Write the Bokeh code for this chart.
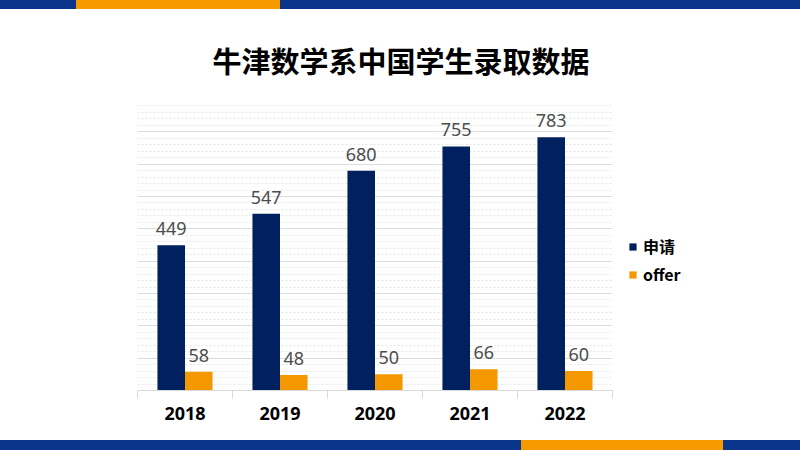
from bokeh.plotting import figure
from bokeh.models import (ColumnDataSource, Range1d, LabelSet, Legend, LegendItem,
                          SingleIntervalTicker, FixedTicker, Div, BoxAnnotation)
from bokeh.transform import dodge
from bokeh.layouts import column
from bokeh.embed import file_html
from bokeh.resources import INLINE
from bokeh.core.properties import value

# ---------------- data ----------------
years = ["2018", "2019", "2020", "2021", "2022"]
applications = [449, 547, 680, 755, 783]
offers = [58, 48, 50, 66, 60]
series_names = ["申请", "offer"]
title_text = "牛津数学系中国学生录取数据"

# ---------------- style ----------------
NAVY = "#002060"
ORANGE = "#F39800"
STRIPE_BLUE = "#0A358A"
STRIPE_ORANGE = "#F59A00"
LABEL_GRAY = "#4D4D4D"
top_stripe_edges = [0, 76, 280, 800]
bottom_stripe_edges = [0, 521, 723, 800]
stripe_colors = [STRIPE_BLUE, STRIPE_ORANGE, STRIPE_BLUE]

W = 800
FRAME_LEFT = 137
CAT_PX = 95  # pixel width of one year slot


def stripe(edges, colors, h):
    stops = []
    for i, c in enumerate(colors):
        stops.append(f"{c} {edges[i]}px")
        stops.append(f"{c} {edges[i + 1]}px")
    grad = "linear-gradient(to right, " + ", ".join(stops) + ")"
    return Div(text="", width=W, height=h, margin=0,
               styles={"background": grad})


n = len(years)
xs = [i + 0.5 for i in range(n)]
src = ColumnDataSource(dict(
    x=xs,
    year=years,
    apply=applications,
    offer=offers,
    apply_s=[str(v) for v in applications],
    offer_s=[str(v) for v in offers],
))

p = figure(x_range=Range1d(0, (W - FRAME_LEFT) / CAT_PX), y_range=Range1d(0, 900),
           width=W, height=431, output_backend="svg", toolbar_location=None,
           min_border_left=FRAME_LEFT, min_border_right=0,
           min_border_top=90, min_border_bottom=50, margin=0)

bw = 0.29
r1 = p.vbar(x=dodge("x", -bw / 2), top="apply", width=bw,
            source=src, fill_color=NAVY, line_color=None)
r2 = p.vbar(x=dodge("x", bw / 2), top="offer", width=bw,
            source=src, fill_color=ORANGE, line_color=None)

for col, txt, off in (("apply", "apply_s", -bw / 2), ("offer", "offer_s", bw / 2)):
    p.add_layout(LabelSet(x=dodge("x", off), y=col, text=txt,
                          source=src, y_offset=10, text_align="center",
                          text_baseline="alphabetic", text_font_size="18px",
                          text_color=LABEL_GRAY, text_font=value("Noto Sans")))

# grid / axes
p.ygrid.ticker = SingleIntervalTicker(interval=100, num_minor_ticks=5)
p.ygrid.grid_line_color = "#DCDCDC"
p.ygrid.minor_grid_line_color = "#E6E6E6"
p.ygrid.minor_grid_line_dash = "2 2"
p.xgrid.visible = False
p.yaxis.visible = False

# white cover so the grid stops at the right end of the category area
p.add_layout(BoxAnnotation(left=n, fill_color="white", fill_alpha=1.0,
                           line_color=None, level="underlay"))

p.xaxis.ticker = FixedTicker(ticks=xs, minor_ticks=list(range(n + 1)))
p.xaxis.major_label_overrides = {x: y for x, y in zip(xs, years)}
p.xaxis.bounds = (0, n)
p.xaxis.axis_line_color = "#D9D9D9"
p.xaxis.major_tick_line_color = None
p.xaxis.major_tick_out = 0
p.xaxis.major_tick_in = 0
p.xaxis.minor_tick_line_color = "#D9D9D9"
p.xaxis.minor_tick_out = 8
p.xaxis.minor_tick_in = 0
p.xaxis.major_label_standoff = 8
p.xaxis.major_label_text_font_size = "18px"
p.xaxis.major_label_text_font_style = "bold"
p.xaxis.major_label_text_color = "black"
p.xaxis.major_label_text_font = "Noto Sans"
p.outline_line_color = None
p.border_fill_color = "white"

# title
p.title.text = title_text
p.title.align = "left"
p.title.offset = 75
p.title.text_font = "Noto Sans CJK SC"
p.title.text_font_size = "29px"
p.title.text_font_style = "bold"
p.title.text_color = "black"
p.title.standoff = 38

legend = Legend(items=[LegendItem(label=series_names[0], renderers=[r1]),
                       LegendItem(label=series_names[1], renderers=[r2])],
                location=(491, 104), padding=0, margin=0,
                glyph_width=9, glyph_height=9, label_standoff=6,
                label_height=18, spacing=4,
                label_text_font="Noto Sans CJK SC",
                label_text_font_size="16px", label_text_font_style="bold",
                label_text_color="black",
                background_fill_alpha=0, border_line_color=None)
p.add_layout(legend, "center")

layout = column(stripe(top_stripe_edges, stripe_colors, 9), p,
                stripe(bottom_stripe_edges, stripe_colors, 10), spacing=0)

open("out.html", "w").write(file_html(layout, INLINE))
